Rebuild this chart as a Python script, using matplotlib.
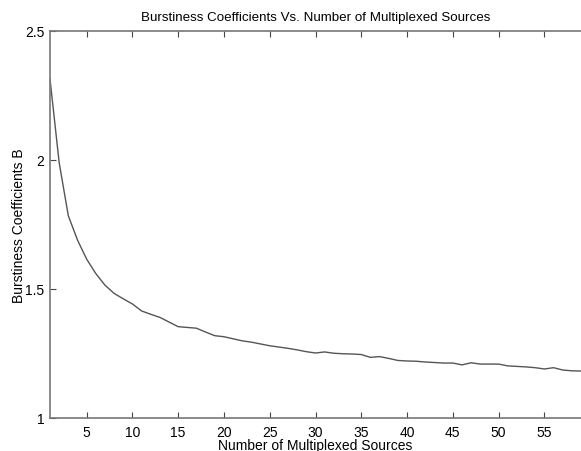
import matplotlib

matplotlib.use("Agg")
import matplotlib.pyplot as plt

# number of multiplexed sources and the burstiness coefficient
sources = list(range(1, 60))
burstiness = [
    2.314, 1.990, 1.784, 1.690, 1.616, 1.560, 1.515, 1.483, 1.462, 1.442,
    1.415, 1.402, 1.390, 1.372, 1.354, 1.351, 1.348, 1.333, 1.319, 1.315,
    1.307, 1.299, 1.294, 1.287, 1.280, 1.275, 1.270, 1.264, 1.257, 1.252,
    1.256, 1.251, 1.249, 1.248, 1.246, 1.235, 1.238, 1.231, 1.223, 1.221,
    1.220, 1.217, 1.215, 1.213, 1.213, 1.206, 1.214, 1.209, 1.209, 1.209,
    1.202, 1.200, 1.198, 1.195, 1.190, 1.195, 1.186, 1.183, 1.182,
]
xticks = [5, 10, 15, 20, 25, 30, 35, 40, 45, 50, 55]
yticks = [1, 1.5, 2, 2.5]

plt.rcParams["font.family"] = ["Liberation Sans", "DejaVu Sans"]

fig = plt.figure(figsize=(5.81, 4.52), dpi=100)
ax = fig.add_axes([50 / 581, 33 / 452, 1 - 50 / 581, 387 / 452])

ax.plot(sources, burstiness, color="#555555", lw=1.0)

ax.set_xlim(1, 59)
ax.set_ylim(1, 2.5)
ax.set_xticks(xticks)
ax.set_yticks(yticks)
ax.set_yticklabels(["1", "1.5", "2", "2.5"])
ax.tick_params(direction="in", length=4, width=0.8, color="#444444",
               labelsize=10, top=True, right=False)
ax.tick_params(axis="x", pad=5)
ax.tick_params(axis="y", pad=4)
for side in ("left", "bottom", "top"):
    ax.spines[side].set_color("#777777")
    ax.spines[side].set_linewidth(1.2)
ax.spines["right"].set_visible(False)

ax.set_title("Burstiness Coefficients Vs. Number of Multiplexed Sources",
             fontsize=9.6, pad=8)
ax.set_xlabel("Number of Multiplexed Sources", fontsize=10, labelpad=-1)
ax.set_ylabel("Burstiness Coefficients B", fontsize=10, labelpad=-1)

fig.savefig("out.png", dpi=100)
